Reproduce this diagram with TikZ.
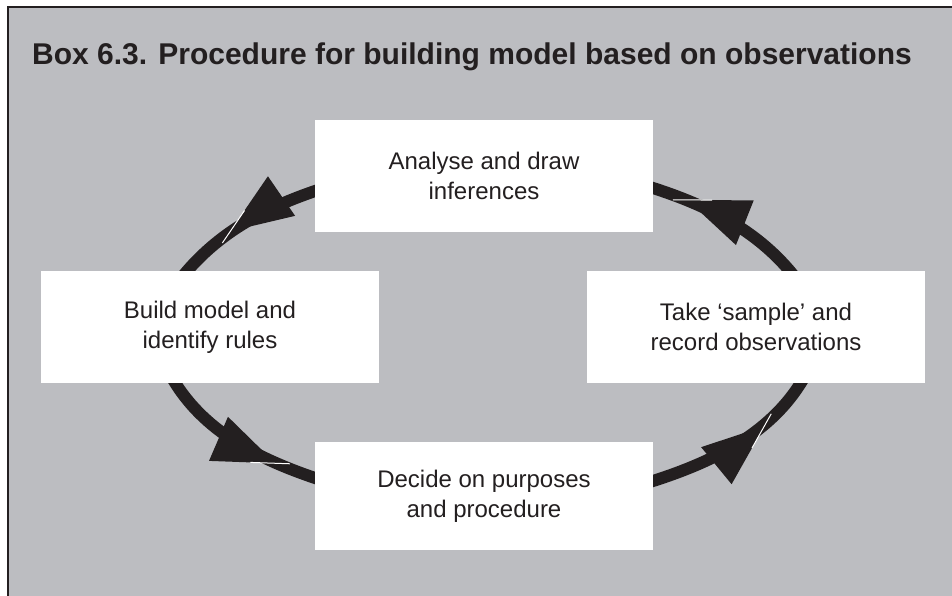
\documentclass[tikz,border=0pt]{standalone}
\usepackage{fontspec}
\setmainfont{Liberation Sans}
\usetikzlibrary{calc,decorations.markings}
\definecolor{bgray}{HTML}{BCBDC1}
\definecolor{ink}{HTML}{231F20}
\pgfdeclarelayer{backdrop}
\pgfdeclarelayer{arcs}
\pgfsetlayers{backdrop,arcs,main}
\tikzset{
  stepbox/.style={fill=white, draw=none, minimum width=338pt, minimum height=112pt,
    align=center, font=\fontsize{24}{30}\selectfont, text=ink, inner sep=0pt},
  shaft/.style={draw=ink, line width=12pt, shorten <=-10pt, shorten >=-10pt},
  headat/.style={postaction={decorate, decoration={markings,
    mark=at position -#1 with {
      \fill[ink] (0pt,0pt) -- (-62pt,24pt) -- (-62pt,-24pt) -- cycle;
      \draw[white, line width=1pt] (4pt,1.6pt) -- (-14pt,-5.4pt);
    }}}}
}
\begin{document}
\begin{tikzpicture}[x=1pt,y=1pt]
  \useasboundingbox (0,0) rectangle (952,595);
  \begin{pgfonlayer}{backdrop}
    \fill[bgray] (8,-5) rectangle (960,588);
    \draw[ink, line width=2pt] (8,-5) -- (8,588) -- (960,588);
  \end{pgfonlayer}

  \node[font=\fontsize{30}{36}\selectfont\bfseries, text=ink] (title) at (472,538)
    {Box 6.3. Procedure for building model based on observations};

  \node[stepbox] (top) at (484,419) {Analyse and draw\\inferences};
  \node[stepbox] (left) at (210,268) {Build model and\\identify rules};
  \node[stepbox] (right) at (756,268) {Take `sample' and\\record observations};
  \node[stepbox, minimum height=108pt] (bot) at (484,99) {Decide on purposes\\and procedure};

  \begin{pgfonlayer}{arcs}
    \draw[shaft, headat=59pt] ($(top.west)+(0,-15)$) to[out=198, in=51.5, looseness=0.85] ($(left.north)+(-23,0)$);
    \draw[shaft, headat=42pt] ($(left.south)+(-35,0)$) to[out=298.8, in=162, looseness=0.85] ($(bot.west)+(0,18)$);
    \draw[shaft, headat=57pt] ($(bot.east)+(0,15)$) to[out=17, in=241.2, looseness=0.85] ($(right.south)+(45,0)$);
    \draw[shaft, headat=36pt] ($(right.north)+(34,0)$) to[out=127.8, in=343, looseness=0.85] ($(top.east)+(0,-12)$);
  \end{pgfonlayer}
\end{tikzpicture}
\end{document}
